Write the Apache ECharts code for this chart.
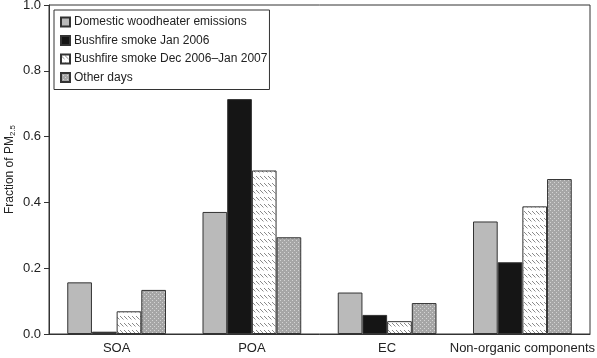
<!DOCTYPE html>
<html><head><meta charset="utf-8">
<script src="https://cdn.jsdelivr.net/npm/echarts@6/dist/echarts.min.js"></script>
<style>html,body{margin:0;padding:0;background:#fff}#c{width:597px;height:358px}</style>
</head><body><div id="c"></div>
<script>
var categories = ['SOA', 'POA', 'EC', 'Non-organic components'];
var seriesNames = ['Domestic woodheater emissions', 'Bushfire smoke Jan 2006', 'Bushfire smoke Dec 2006\u2013Jan 2007', 'Other days'];
var woodheater = [0.157, 0.371, 0.126, 0.342];
var bushfire2006 = [0.007, 0.714, 0.058, 0.218];
var bushfire2007 = [0.069, 0.497, 0.039, 0.388];
var otherDays = [0.134, 0.294, 0.094, 0.471];
var yTicks = [0, 0.2, 0.4, 0.6, 0.8, 1.0];

function hatch() {
  var c = document.createElement('canvas'); c.width = 4; c.height = 7;
  var g = c.getContext('2d');
  g.fillStyle = '#fff'; g.fillRect(0, 0, 4, 7);
  g.strokeStyle = '#8a8a8a'; g.lineWidth = 1;
  g.beginPath(); g.moveTo(0, 1); g.lineTo(3.5, 4.5); g.stroke();
  return c;
}
function dots() {
  var c = document.createElement('canvas'); c.width = 4; c.height = 4;
  var g = c.getContext('2d');
  g.fillStyle = '#a6a6a6'; g.fillRect(0, 0, 4, 4);
  g.fillStyle = '#d4d4d4'; g.fillRect(0, 0, 1, 1); g.fillRect(2, 2, 1, 1);
  return c;
}
var colors = ['#bababa', '#151515', {image: hatch(), repeat: 'repeat'}, {image: dots(), repeat: 'repeat'}];
var dataSets = [woodheater, bushfire2006, bushfire2007, otherDays];

var chart = echarts.init(document.getElementById('c'));
var font = 'Liberation Sans, Arial, Helvetica, sans-serif';
chart.setOption({
  animation: false,
  textStyle: {fontFamily: font},
  grid: {left: 49, right: 7, top: 5, bottom: 24, outerBoundsMode: 'none', containLabel: false,
         show: true, borderColor: '#333', borderWidth: 1, backgroundColor: 'transparent'},
  legend: {
    orient: 'vertical', left: 54, top: 10, itemWidth: 9, itemHeight: 9, itemGap: 6.5,
    padding: [6, 2, 6, 6], borderColor: '#333', borderWidth: 1, backgroundColor: '#fff',
    icon: 'rect',
    textStyle: {fontSize: 12, color: '#222', fontFamily: font, padding: [0, 0, 0, -1]},
    data: seriesNames
  },
  xAxis: {
    type: 'category', data: categories,
    axisLine: {lineStyle: {color: '#333'}},
    axisTick: {length: 5, lineStyle: {color: '#333'}},
    axisLabel: {interval: 0, fontSize: 13, color: '#222', margin: 8, fontFamily: font, hideOverlap: false}
  },
  yAxis: {
    type: 'value', min: 0, max: 1, interval: 0.2,
    name: '{a|Fraction of PM}{s|2.5}', nameLocation: 'middle', nameGap: 32, nameMoveOverlap: false,
    nameTextStyle: {rich: {a: {fontSize: 12, color: '#222', fontFamily: font}, s: {fontSize: 8, color: '#222', fontFamily: font, verticalAlign: 'bottom', padding: [6, 0, 0, 0]}}},
    axisLine: {show: true, lineStyle: {color: '#333'}},
    axisTick: {show: true, length: 5, lineStyle: {color: '#333'}},
    splitLine: {show: false},
    axisLabel: {fontSize: 13, color: '#222', margin: 8, fontFamily: font, formatter: function (v) { return v.toFixed(1); }}
  },
  series: dataSets.map(function (d, i) {
    return {
      name: seriesNames[i], type: 'bar', data: d,
      barGap: '0%', barCategoryGap: '27%',
      itemStyle: {color: colors[i], borderColor: '#333', borderWidth: 1}
    };
  })
});
</script></body></html>
